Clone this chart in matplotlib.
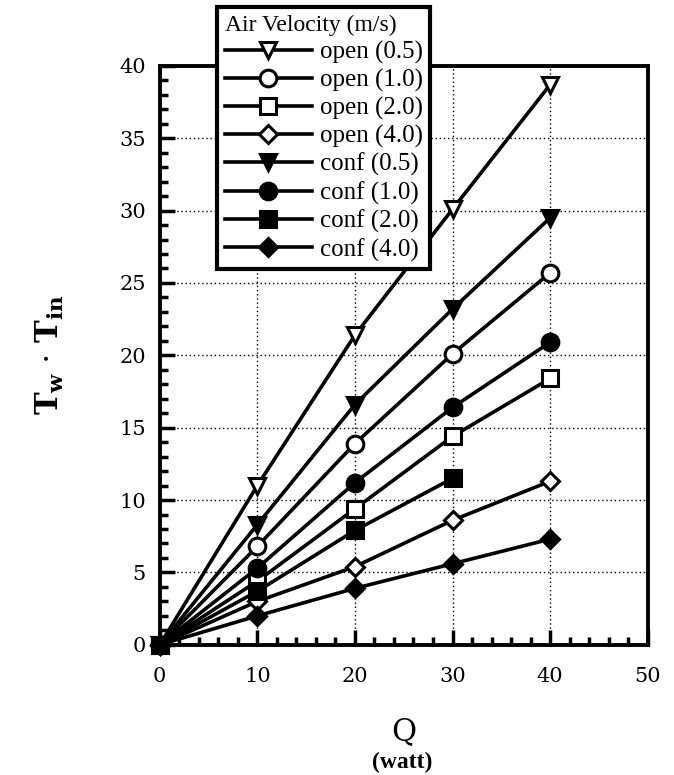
import matplotlib
matplotlib.use("Agg")
import matplotlib.pyplot as plt
from matplotlib.ticker import MultipleLocator

plt.rcParams["mathtext.fontset"] = "dejavuserif"

# heat input Q (watt)
Q = [0, 10, 20, 30, 40]
Q_short = [0, 10, 20, 30]

# wall - inlet temperature difference, one list per air velocity
open_05 = [0, 11.0, 21.4, 30.1, 38.7]
open_10 = [0, 6.8, 13.9, 20.1, 25.7]
open_20 = [0, 4.4, 9.4, 14.4, 18.4]
open_40 = [0, 3.0, 5.4, 8.6, 11.3]
conf_05 = [0, 8.3, 16.6, 23.2, 29.5]
conf_10 = [0, 5.3, 11.2, 16.4, 20.9]
conf_20 = [0, 3.7, 7.9, 11.5]
conf_40 = [0, 2.0, 3.9, 5.6, 7.3]

labels = ["open (0.5)", "open (1.0)", "open (2.0)", "open (4.0)",
          "conf (0.5)", "conf (1.0)", "conf (2.0)", "conf (4.0)"]

fig = plt.figure(figsize=(6.74, 7.75), dpi=100)
ax = fig.add_axes([0.237, 0.168, 0.724, 0.747])

# --------------------- series
series = [
    (Q, open_05, "v", "white"),
    (Q, open_10, "o", "white"),
    (Q, open_20, "s", "white"),
    (Q, open_40, "D", "white"),
    (Q, conf_05, "v", "black"),
    (Q, conf_10, "o", "black"),
    (Q_short, conf_20, "s", "black"),
    (Q, conf_40, "D", "black"),
]
for (x, y, m, fc), lab in zip(series, labels):
    ms = 9 if m == "D" else 12
    ax.plot(x, y, color="black", lw=2.6, marker=m, ms=ms, mfc=fc,
            mec="black", mew=2.2, label=lab, clip_on=False, zorder=3)

# --------------------- axes
ax.set_xlim(0, 50)
ax.set_ylim(0, 40)
ax.xaxis.set_major_locator(MultipleLocator(10))
ax.xaxis.set_minor_locator(MultipleLocator(2))
ax.yaxis.set_major_locator(MultipleLocator(5))
ax.yaxis.set_minor_locator(MultipleLocator(1))
ax.tick_params(which="major", direction="in", length=11, width=2.5,
               labelsize=15, pad=10)
ax.tick_params(which="minor", direction="in", length=6, width=2.5)
for lab in ax.get_xticklabels() + ax.get_yticklabels():
    lab.set_family("DejaVu Serif")
ax.tick_params(axis="x", pad=16)

for s in ax.spines.values():
    s.set_linewidth(2.8)

ax.grid(True, which="major", ls=(0, (1, 2)), color="black", lw=1.0)

ax.set_xlabel("Q", family="DejaVu Serif", fontsize=22, labelpad=22)
fig.text(0.596, 0.003, "(watt)", family="Liberation Serif", weight="bold",
         fontsize=17, ha="center", va="bottom")
ax.set_ylabel(r"$\mathbf{T_w}$ $\cdot$ $\mathbf{T_{in}}$",
              fontsize=22, labelpad=38)

# --------------------- legend
leg = fig.legend(loc="upper left", bbox_to_anchor=(0.322, 0.991),
                 borderaxespad=0, title="Air Velocity (m/s)",
                 prop={"family": "Liberation Serif", "size": 18},
                 title_fontproperties={"family": "Liberation Serif", "size": 17},
                 frameon=True, fancybox=False, framealpha=1, edgecolor="black",
                 handlelength=3.5, labelspacing=0.2, handletextpad=0.3,
                 borderpad=0.3, alignment="left")
leg.get_frame().set_linewidth(3)

plt.savefig("out.png", dpi=100)
